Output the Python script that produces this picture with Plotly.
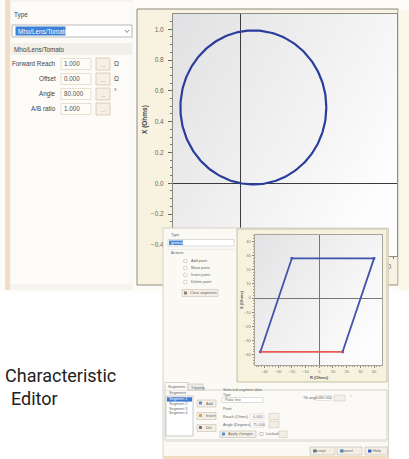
import base64
import numpy as np
import plotly.graph_objects as go

W, H = 409, 459

# ---------------- data ----------------
# Mho characteristic settings (top editor)
mho_forward_reach = 1.0
mho_offset = 0.0
mho_angle_deg = 80.0
mho_ab_ratio = 1.0
top_ticks = [-0.4, -0.2, 0.0, 0.2, 0.4, 0.6, 0.8, 1.0]
# x tick labels of the top chart: only the last one peeks out beside the lower window
top_x_ticktext = ["", "", "", "", "", "", "", "1.0"]

# Polygon characteristic (lower editor), R / X in Ohms
quad_r = [-43, -20, 40, 17]
quad_x = [-38, 28, 28, -38]
quad_ticks = [-40, -30, -20, -10, 0, 10, 20, 30, 40]

# UI texts
form_labels = ["Forward Reach", "Offset", "Angle", "A/B ratio"]
form_values = ["1.000", "0.000", "80.000", "1.000"]
form_units = ["Ω", "Ω", "°", ""]
action_labels = ["Add point", "Move point", "Insert point", "Delete point"]
segment_items = ["Segment 1", "Segment 2", "Segment 3", "Segment 4"]

# ---------------- helpers ----------------
def dom_x(a, b):
    return [a / W, b / W]

def dom_y(a, b):
    return [1 - b / H, 1 - a / H]

shapes = []
ann = []

def prect(x0, y0, x1, y1, fill, line=None, lw=0.8):
    shapes.append(dict(type="rect", xref="paper", yref="paper", layer="below",
                       x0=x0 / W, x1=x1 / W, y0=1 - y1 / H, y1=1 - y0 / H,
                       fillcolor=fill, line=dict(color=line or fill, width=lw if line else 0)))

def wrect(x0, y0, x1, y1, fill, line=None, lw=0.6, kind="rect"):
    shapes.append(dict(type=kind, xref="x2", yref="y2", layer="between",
                       x0=x0, x1=x1, y0=y0, y1=y1,
                       fillcolor=fill, line=dict(color=line or fill, width=lw if line else 0)))

def wline(x0, y0, x1, y1, color, lw=0.6):
    shapes.append(dict(type="line", xref="x2", yref="y2", layer="between",
                       x0=x0, x1=x1, y0=y0, y1=y1, line=dict(color=color, width=lw)))

def text(x, y, s, size=6.5, color="#333", xanchor="left", family="Liberation Sans, Arial", angle=0, bold=False):
    if bold:
        s = "<b>" + s + "</b>"
    ann.append(dict(x=x / W, y=1 - y / H, xref="paper", yref="paper", text=s, showarrow=False,
                    xanchor=xanchor, yanchor="middle", textangle=angle, borderpad=0,
                    font=dict(size=size, color=color, family=family)))

def grad_src(c0, c1, x2=1, y2=0.7):
    svg = ('<svg xmlns="http://www.w3.org/2000/svg" width="100" height="100" viewBox="0 0 100 100" '
           'preserveAspectRatio="none"><defs><linearGradient id="g" x1="0" y1="0" x2="%s" y2="%s">'
           '<stop offset="0" stop-color="%s"/><stop offset="1" stop-color="%s"/></linearGradient></defs>'
           '<rect width="100" height="100" fill="url(#g)"/></svg>') % (x2, y2, c0, c1)
    return "data:image/svg+xml;base64," + base64.b64encode(svg.encode()).decode()

# ---------------- figure / traces ----------------
fig = go.Figure()

# mho circle through origin, diameter = forward reach along the characteristic angle
ang = np.radians(mho_angle_deg)
cx = mho_offset + mho_forward_reach / 2 * np.cos(ang)
cy = mho_offset + mho_forward_reach / 2 * np.sin(ang)
t = np.linspace(0, 2 * np.pi, 241)
fig.add_trace(go.Scatter(x=cx + mho_forward_reach / 2 * np.cos(t), y=cy + mho_forward_reach / 2 * np.sin(t),
                         mode="lines", line=dict(color="#2b3d9b", width=2.2),
                         xaxis="x", yaxis="y", hoverinfo="skip"))

# invisible anchor trace for the pixel layer of the second window
fig.add_trace(go.Scatter(x=[0], y=[0], mode="markers", marker=dict(opacity=0),
                         xaxis="x2", yaxis="y2", hoverinfo="skip"))

# polygon segments
fig.add_trace(go.Scatter(x=quad_r, y=quad_x, mode="lines+markers",
                         line=dict(color="#3f52ad", width=1.8),
                         marker=dict(size=2.5, color="#3f52ad", symbol="square"),
                         xaxis="x3", yaxis="y3", hoverinfo="skip"))
fig.add_trace(go.Scatter(x=[quad_r[3], quad_r[0]], y=[quad_x[3], quad_x[0]], mode="lines",
                         line=dict(color="#ec5a55", width=1.8),
                         xaxis="x3", yaxis="y3", hoverinfo="skip"))

# ---------------- window 1 chrome (below everything) ----------------
prect(0, 0, W, 292, "#fdfcf9")
prect(5, 0, 10, 290, "#f1dcc5")
prect(10, 0, 133, 290, "#f6f4ee")
prect(11, 2, 132, 284, "#fcfbf8")
prect(137, 9, 398, 285, "#f7f3e0", "#8d8a7c", 1)
prect(398.5, 10, W, 290, "#fbf8ea")

# dropdown
prect(12, 25, 132, 37, "#ffffff", "#a9a9a9", 0.8)
prect(15.5, 26.5, 65.5, 35.5, "#3d82d8")
shapes.append(dict(type="path", xref="paper", yref="paper", layer="below",
                   path="M %f %f L %f %f L %f %f" % (125 / W, 1 - 30 / H, 127 / W, 1 - 32.5 / H, 129 / W, 1 - 30 / H),
                   line=dict(color="#666", width=0.8)))
text(17, 31, "Mho/Lens/Tomato", 6.3, "#ffffff")
text(13, 15, "Type", 6.3, "#444")
prect(11, 43, 132, 55, "#f1efe8")
text(13, 49.5, "Mho/Lens/Tomato", 6.3, "#444")

row_y = [64, 79, 94, 109]
for lab, val, unit, yy in zip(form_labels, form_values, form_units, row_y):
    prect(61, yy - 5.5, 91, yy + 5.5, "#fdfcf7", "#e4d6c2", 0.8)
    prect(96, yy - 6, 110, yy + 6, "#f7efe5", "#d8c4ad", 0.8)
    text(57, yy, lab, 6.3, "#444", xanchor="right")
    text(63, yy, val, 6.3, "#555")
    text(103, yy + 1, "...", 5, "#777", xanchor="center")
    if unit:
        text(113, yy - (3 if unit == "°" else 0), unit, 6.5, "#444")

text(145, 120, "X (Ohms)", 6.5, "#444", xanchor="center", angle=-90, bold=True)

# ---------------- window 2 chrome (pixel layer, above top chart) ----------------
wrect(163, 228, 388.5, H, "#faf9f4", "#cfc9bd", 0.8)
wrect(163, 456, 388.5, H, "#f2dcc4")
wrect(237, 229, 387, 382, "#f6f2dd", "#b7b29c", 0.8)
# left actions panel
wrect(168, 239.5, 234, 246, "#ffffff", "#b9b9b9", 0.5)
wrect(169, 240.5, 183, 245, "#4a88d8")
wline(166, 249.5, 236, 249.5, "#e6e3da", 0.6)
for i, lab in enumerate(action_labels):
    yy = 261 + 7 * i
    wrect(183.5, yy - 1.8, 187.1, yy + 1.8, "#ffffff", "#a8a8a8", 0.5, kind="circle")
wrect(182, 289.5, 218, 296.5, "#f4efe6", "#c9bfae", 0.6)
wrect(184, 291.5, 187, 294.5, "#8a7f70")
# tabs and segment panel
wrect(165, 390, 387, 440, "#fbfaf6", "#bdbab2", 0.6)
wrect(165, 382.5, 188, 390.5, "#fbfaf6", "#bdbab2", 0.6)
wline(165.3, 390, 187.7, 390, "#fbfaf6", 1)
wrect(188, 384, 203, 390, "#efeee8", "#bdbab2", 0.6)
wrect(166, 396, 193, 436, "#ffffff", "#a9a9a9", 0.6)
wrect(167, 397.2, 192, 401.6, "#3c79cf")
for yy in (403.5, 416, 428):
    wrect(197, yy - 3.5, 216, yy + 3.5, "#f4efe6", "#c8bfae", 0.6)
wrect(199, 401.5, 202, 404.5, "#4f8fd8")
wrect(199, 414, 202, 417, "#d9a441")
wrect(199, 426, 202, 429, "#777777")
wrect(222, 397.5, 263, 402.5, "#ffffff", "#bcbcbc", 0.5)
for yy in (416.5, 424.5):
    wrect(250, yy - 2.6, 264, yy + 2.6, "#ffffff", "#d6cbb9", 0.5)
    wrect(269, yy - 3.2, 279, yy + 3.2, "#f4efe6", "#c8bfae", 0.5)
wrect(220, 431, 256, 437.5, "#f4efe6", "#c8bfae", 0.6)
wrect(222, 432.5, 225, 435.5, "#5a8fd0")
wrect(260, 432.5, 263, 435.5, "#ffffff", "#999", 0.5)
wrect(279, 431, 287, 437.5, "#f4efe6", "#c8bfae", 0.5)
wrect(316, 395.5, 331, 400.5, "#ffffff", "#d6cbb9", 0.5)
wrect(334, 395, 345, 401, "#f4efe6", "#c8bfae", 0.5)
wline(165, 441.5, 387, 441.5, "#dcd8cf", 0.6)
for x0, x1, col in ((310, 335, "#5a8fd0"), (337, 362, "#5a8fd0"), (365, 387.5, "#2f63c4")):
    wrect(x0, 447, x1, 455, "#f4efe6", "#c3b9a8", 0.6)
    wrect(x0 + 3, 449.5, x0 + 6.5, 452.5, col)

# window 2 texts
s = 3.8
c2 = "#666"
text(170, 235, "Type", s, c2)
text(170, 243, "general", s, "#ffffff")
text(170, 253, "Actions", s, c2)
for i, lab in enumerate(action_labels):
    text(189.5, 261 + 7 * i, lab, s, c2)
text(189, 293, "Clear segments", s, c2)
text(167, 386.5, "Segments", s, c2)
text(190, 387.5, "Tripping", s, c2)
text(168, 393, "Segments", s, c2)
for i, lab in enumerate(segment_items):
    text(168, 399.4 + 4.6 * i, lab, 3.8, "#ffffff" if i == 0 else c2)
text(205, 403.5, "Add", s, c2)
text(205, 416, "Insert", s, c2)
text(205, 428, "Del", s, c2)
text(222, 389.8, "Selected segment data", 3.8, c2)
text(222, 394.6, "Type", 3.6, c2)
text(224, 400, "Polar line", 3.8, c2)
text(222, 409, "Point", s, c2)
text(222, 416.5, "Reach (Ohms)", s, c2)
text(252, 416.5, "0.000", s, c2)
text(222, 424.5, "Angle (Degrees)", s, c2)
text(252, 424.5, "75.000", s, c2)
text(227, 434.3, "Apply changes", s, c2)
text(265, 434, "Locked", s, c2)
text(302, 398, "Tilt angle", s, c2)
text(317, 398, "180.000", s, c2)
text(349, 396.5, "°", s, c2)
text(313, 451, "Accept", s, c2)
text(340, 451, "Cancel", s, c2)
text(372, 451, "Help", s, c2)
text(241, 300, "X (Ohms)", 4, "#555", xanchor="center", angle=-90, bold=True)
text(319, 377, "R (Ohms)", 4, "#555", xanchor="center", bold=True)

# caption
text(4, 375, "Characteristic", 18, "#222", family="Liberation Sans Narrow, Roboto, Arial")
text(10, 398, "Editor", 18, "#222", family="Liberation Sans Narrow, Roboto, Arial")

# ---------------- axes ----------------
ax_common = dict(showgrid=False, zeroline=True, showline=True, mirror=True, ticks="outside",
                 fixedrange=True)
top_xr = [-0.464, 1.071]
top_yr = [-0.472, 1.099]
q_xr = [-46.9, 45.8]
q_yr = [-47.2, 44.4]

fig.update_layout(
    width=W, height=H, margin=dict(l=0, r=0, t=0, b=0, pad=0),
    paper_bgcolor="#ffffff", plot_bgcolor="rgba(0,0,0,0)", showlegend=False, hovermode=False,
    xaxis=dict(domain=dom_x(173, 397), range=top_xr, anchor="y", tickvals=top_ticks, ticktext=top_x_ticktext,
               zerolinecolor="#3c3c3c", zerolinewidth=1, linecolor="#8f8d84", linewidth=1,
               ticklen=4, tickcolor="#666", tickfont=dict(size=6.5, color="#666", family="Liberation Sans, Arial"),
               minor=dict(ticks="outside", ticklen=2, dtick=0.05, tickcolor="#777"), **ax_common),
    yaxis=dict(domain=dom_y(14, 256), range=top_yr, anchor="x", tickvals=top_ticks, tickformat=".1f",
               zerolinecolor="#3c3c3c", zerolinewidth=1, linecolor="#8f8d84", linewidth=1,
               ticklen=4, tickcolor="#666", ticklabelstandoff=3,
               tickfont=dict(size=6.5, color="#666", family="Liberation Sans, Arial"),
               minor=dict(ticks="outside", ticklen=2, dtick=0.05, tickcolor="#777"), **ax_common),
    xaxis2=dict(domain=[0, 1], range=[0, W], anchor="y2", visible=False, fixedrange=True),
    yaxis2=dict(domain=[0, 1], range=[H, 0], anchor="x2", visible=False, fixedrange=True),
    xaxis3=dict(domain=dom_x(255, 382), range=q_xr, anchor="y3", tickvals=quad_ticks,
                zerolinecolor="#777", zerolinewidth=0.8, linecolor="#a5a39a", linewidth=0.8,
                ticklen=2.5, tickcolor="#888", tickfont=dict(size=4, color="#777", family="Liberation Sans, Arial"),
                minor=dict(ticks="outside", ticklen=1.5, dtick=2, tickcolor="#999"), **ax_common),
    yaxis3=dict(domain=dom_y(235, 365), range=q_yr, anchor="x3", tickvals=quad_ticks,
                zerolinecolor="#777", zerolinewidth=0.8, linecolor="#a5a39a", linewidth=0.8,
                ticklen=2.5, tickcolor="#888", tickfont=dict(size=4, color="#777", family="Liberation Sans, Arial"),
                minor=dict(ticks="outside", ticklen=1.5, dtick=2, tickcolor="#999"), **ax_common),
    shapes=shapes, annotations=ann,
    images=[
        dict(source=grad_src("#e1e1e3", "#fdfdfd", 1, 0.6), xref="x", yref="y", x=top_xr[0], y=top_yr[1],
             sizex=top_xr[1] - top_xr[0], sizey=top_yr[1] - top_yr[0], sizing="stretch",
             xanchor="left", yanchor="top", layer="below"),
        dict(source=grad_src("#e3e3e5", "#fdfdfd", 1, 0.7), xref="x3", yref="y3", x=q_xr[0], y=q_yr[1],
             sizex=q_xr[1] - q_xr[0], sizey=q_yr[1] - q_yr[0], sizing="stretch",
             xanchor="left", yanchor="top", layer="below"),
    ],
)

fig.write_html("out.html", config={"displayModeBar": False},
               post_script="document.body.style.margin='0';document.body.style.overflow='hidden';")
